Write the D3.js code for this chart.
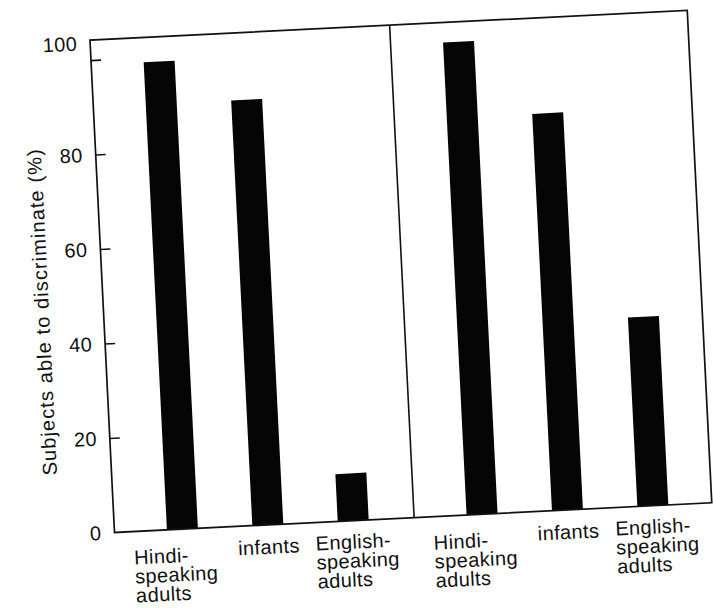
<!DOCTYPE html>
<html>
<head>
<meta charset="utf-8">
<script src="https://cdn.jsdelivr.net/npm/d3@7"></script>
<style>
  html, body { margin: 0; padding: 0; background: #fff; }
  svg { display: block; }
  text { font-family: "Liberation Sans", Arial, Helvetica, sans-serif; fill: #111; }
</style>
</head>
<body>
<svg id="chart" width="713" height="608"></svg>
<script>
// ---- data ----
const panels = ["Panel A", "Panel B"];
const categories = ["Hindi-speaking adults", "infants", "English-speaking adults"];
const categoryLabelLines = [["Hindi-", "speaking", "adults"], ["infants"], ["English-", "speaking", "adults"]];
const panelAValues = [99, 90, 10];
const panelBValues = [100, 84, 40];
const yTickValues = [0, 20, 40, 60, 80, 100];
const yTitle = "Subjects able to discriminate (%)";

// ---- layout ----
const W = 598, H = 493;          // frame size (unrotated)
const tilt = -2.85;               // scan tilt in degrees
const origin = [114.5, 532.5];    // bottom-left corner of frame on page
const barW = 31;
const fontSize = 20;
const labelDx = [-8, 0, 3];       // horizontal shift of label blocks
const labelY0 = [26, 22, 21];     // first line centre below baseline
const lineGap = 19;

const svg = d3.select("#chart");
const g = svg.append("g")
  .attr("transform", `translate(${origin[0]},${origin[1]}) rotate(${tilt}) translate(0,${-H})`);

const panelScale = d3.scaleBand().domain(panels).range([0, 600]).paddingInner(0).paddingOuter(0);
const xScale = d3.scalePoint().domain(categories).range([68, 239]);
const yScale = d3.scaleLinear().domain([0, 100]).range([H, H - 473]);

const panelValues = [panelAValues, panelBValues];
const rows = [];
panels.forEach((p, pi) => {
  categories.forEach((c, ci) => rows.push({ panel: p, cat: c, ci, value: panelValues[pi][ci] }));
});

// bars
g.selectAll("rect.bar").data(rows).enter().append("rect")
  .attr("class", "bar")
  .attr("x", d => panelScale(d.panel) + xScale(d.cat) - barW / 2)
  .attr("y", d => yScale(d.value))
  .attr("width", barW)
  .attr("height", d => yScale(0) - yScale(d.value))
  .attr("fill", "#050505");

// frame
g.append("rect").attr("x", 0).attr("y", 0).attr("width", W).attr("height", H)
  .attr("fill", "none").attr("stroke", "#111").attr("stroke-width", 1.7);
// divider
g.append("line")
  .attr("x1", panelScale(panels[1])).attr("x2", panelScale(panels[1]))
  .attr("y1", 0).attr("y2", H)
  .attr("stroke", "#111").attr("stroke-width", 1.6);

// y axis
const yAxis = d3.axisLeft(yScale).tickValues(yTickValues).tickSize(-10).tickPadding(13)
  .tickFormat(d3.format("d"));
const ax = g.append("g").call(yAxis);
ax.select(".domain").remove();
ax.selectAll(".tick line").attr("stroke", "#111").attr("stroke-width", 1.6);
ax.selectAll(".tick text")
  .style("font-size", fontSize + "px")
  .style("letter-spacing", "0.4px")
  .attr("fill", "#111");
// top label sits at the frame's top edge in the original
ax.selectAll(".tick").filter(d => d === 100).select("text").attr("y", -(yScale(100) - 3));
ax.selectAll(".tick").filter(d => d === 0).select("line").remove();

// y title
g.append("text")
  .attr("transform", `translate(-61.5, ${H - 224}) rotate(-90)`)
  .attr("text-anchor", "middle")
  .attr("dy", "0.35em")
  .style("font-size", fontSize + "px")
  .style("letter-spacing", "1.1px")
  .text(yTitle);

// category labels
rows.forEach(d => {
  const lines = categoryLabelLines[d.ci];
  const t = g.append("text")
    .style("font-size", fontSize + "px")
    .style("letter-spacing", "0.4px")
    .attr("text-anchor", "start");
  lines.forEach((ln, i) => {
    t.append("tspan").attr("x", 0).attr("y", H + labelY0[d.ci] + i * lineGap)
      .attr("dy", "0.35em").text(ln);
  });
  const bw = t.node().getBBox().width;
  t.attr("transform", `translate(${panelScale(d.panel) + xScale(d.cat) - bw / 2 + labelDx[d.ci]},0)`);
});
</script>
</body>
</html>
